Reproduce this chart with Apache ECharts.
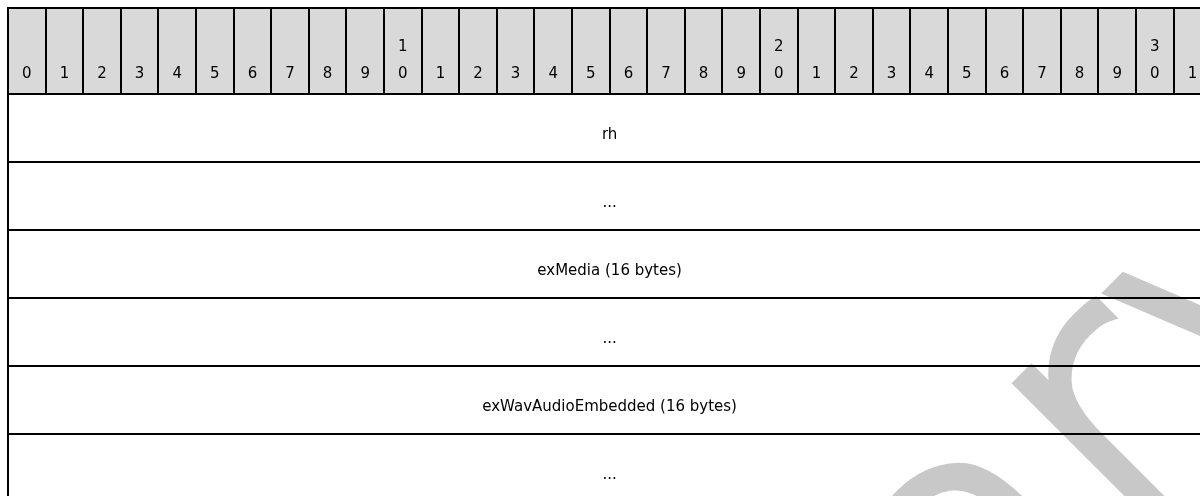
<!DOCTYPE html>
<html>
<head>
<meta charset="utf-8">
<script src="https://cdn.jsdelivr.net/npm/echarts@6/dist/echarts.min.js"></script>
<style>
html,body{margin:0;padding:0;background:#fff;}
#chart{width:1200px;height:496px;}
</style>
</head>
<body>
<div id="chart"></div>
<script>
// Bit-position header labels (0..31)
const bitLabels = ['0','1','2','3','4','5','6','7','8','9','1\n0','1','2','3','4','5','6','7','8','9','2\n0','1','2','3','4','5','6','7','8','9','3\n0','1'];
// Field rows
const fieldNames = ['rh', '...', 'exMedia (16 bytes)', '...', 'exWavAudioEmbedded (16 bytes)', '...'];
const fieldStartBits = [0, 0, 0, 0, 0, 0];
const fieldEndBits = [32, 32, 32, 32, 32, 32];
const watermarkText = 'Preliminary';

const FONT = 'DejaVu Sans';
const chart = echarts.init(document.getElementById('chart'), null, {renderer: 'canvas'});

const headerData = bitLabels.map((l, i) => [i, i + 1, l]);
const fieldData = fieldNames.map((n, i) => [fieldStartBits[i], fieldEndBits[i], i, n]);
const R = Math.round;

function headerItem(params, api) {
  const s = api.value(0), e = api.value(1);
  const label = String(bitLabels[params.dataIndex]);
  const p0 = api.coord([s, 1]);
  const p1 = api.coord([e, 0]);
  const lines = label.split('\n');
  const cx = (p0[0] + p1[0]) / 2;
  const x0 = R(p0[0]), x1 = R(p1[0]), y0 = R(p0[1]), y1 = R(p1[1]);
  const children = [{
    type: 'rect',
    shape: {x: x0, y: y0, width: x1 - x0, height: y1 - y0},
    style: {fill: '#d9d9d9', stroke: '#000', lineWidth: 2}
  }];
  lines.forEach((t, k) => {
    const fromBottom = lines.length - 1 - k;
    children.push({
      type: 'text',
      style: {
        text: t, x: cx, y: p1[1] - 20 - fromBottom * 27,
        align: 'center', verticalAlign: 'middle',
        fill: '#000', font: '15px "' + FONT + '"'
      }
    });
  });
  return {type: 'group', children};
}

function fieldItem(params, api) {
  const s = api.value(0), e = api.value(1), r = api.value(2);
  const p0 = api.coord([s, r]);
  const p1 = api.coord([e, r + 1]);
  const x0 = R(p0[0]), x1 = R(p1[0]), y0 = R(p0[1]), y1 = R(p1[1]);
  return {
    type: 'group',
    children: [{
      type: 'rect',
      shape: {x: x0, y: y0, width: x1 - x0, height: y1 - y0},
      style: {fill: 'none', stroke: '#000', lineWidth: 2}
    }, {
      type: 'text',
      style: {
        text: fieldNames[params.dataIndex],
        x: (p0[0] + p1[0]) / 2, y: (p0[1] + p1[1]) / 2 + 7,
        align: 'center', verticalAlign: 'middle',
        fill: '#000', font: '15px "' + FONT + '"'
      }
    }]
  };
}

const colW = 37.6;
const option = {
  animation: false,
  backgroundColor: '#fff',
  graphic: [{
    type: 'text',
    z: 1,
    x: -19, y: 1834,
    rotation: Math.PI / 4,
    silent: true,
    style: {
      text: watermarkText,
      font: '200 370px "' + FONT + '"',
      fill: '#c8c8c8',
      stroke: '#c8c8c8',
      lineWidth: 12,
      lineJoin: 'round',
      align: 'left', verticalAlign: 'bottom'
    }
  }],
  grid: [
    {left: 8, top: 8, width: colW * 32, height: 86, outerBoundsMode: 'none', containLabel: false},
    {left: 8, top: 94, width: colW * 32, height: 68 * 6, outerBoundsMode: 'none', containLabel: false}
  ],
  xAxis: [
    {gridIndex: 0, type: 'value', min: 0, max: 32, show: false},
    {gridIndex: 1, type: 'value', min: 0, max: 32, show: false}
  ],
  yAxis: [
    {gridIndex: 0, type: 'value', min: 0, max: 1, show: false},
    {gridIndex: 1, type: 'value', min: 0, max: 6, inverse: true, show: false}
  ],
  series: [
    {type: 'custom', xAxisIndex: 0, yAxisIndex: 0, renderItem: headerItem, data: headerData, z: 5, silent: true, clip: false},
    {type: 'custom', xAxisIndex: 1, yAxisIndex: 1, renderItem: fieldItem, data: fieldData, z: 5, silent: true, clip: false}
  ]
};
chart.setOption(option);
</script>
</body>
</html>
